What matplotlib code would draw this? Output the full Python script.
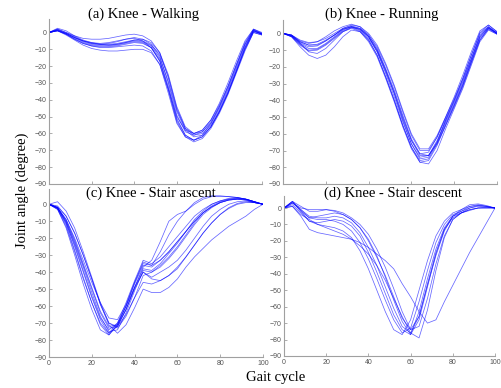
import matplotlib
matplotlib.use("Agg")
from matplotlib import pyplot as plt

# gait cycle (%) sampled every 4 %
gait_x = [0, 4, 8, 12, 16, 20, 24, 28, 32, 36, 40, 44, 48,
          52, 56, 60, 64, 68, 72, 76, 80, 84, 88, 92, 96, 100]

# knee angle (deg), one list per trial
walking = [
    [0, 2, 0, -2, -3.5, -4, -4, -3.5, -2.5, -1.5, -1, -2, -5, -12, -27, -46, -57, -60, -58, -52, -43, -32, -19, -6, 2, -0.5],
    [0, 1.5, -0.5, -3, -5, -6, -6.5, -6, -5, -4, -3, -4, -7, -14, -30, -49, -59, -61, -59, -53, -44, -33, -20, -7, 1.5, -1],
    [0, 1, -1, -4, -6.5, -8, -8.5, -8.5, -8, -7, -6, -6.5, -9, -16, -32, -51, -61, -64, -62, -56, -47, -36, -23, -10, 0.5, -1],
    [0, 1, -1.5, -4.5, -7.5, -9.5, -10.5, -11, -11, -10.5, -10, -10, -12, -19, -34, -52, -61, -64, -62, -56, -47, -36, -23, -10, 0, -1.5],
    [0, 2, 0, -2.5, -5, -6.5, -7, -7, -6.5, -5.5, -4.5, -5, -7.5, -13, -26, -45, -57, -61, -60, -55, -46, -35, -22, -9, 1, -1],
    [0, 1.5, -1, -3.5, -6, -7.5, -8, -8, -7.5, -6.5, -5.5, -6, -9, -17, -34, -53, -62, -65, -63, -57, -48, -37, -24, -11, 0, -1.5],
    [0, 1, -0.5, -3, -5, -6.5, -7, -6.5, -5.5, -4, -3.5, -5, -9, -17, -33, -50, -58, -60, -58, -52, -42, -30, -17, -5, 2, 0],
    [0, 2.5, 1, -2, -4.5, -6, -7, -7.5, -7, -6, -5, -5.5, -8, -15, -29, -47, -58, -62, -61, -56, -47, -36, -23, -9, 1, -1],
    [0, 1, -1, -4, -6.5, -8, -9, -9, -8.5, -8, -7.5, -8, -11, -19, -36, -54, -62, -64, -61, -54, -44, -32, -19, -7, 1.5, -0.5],
    [0, 1.5, -0.5, -3, -5.5, -7, -7.5, -7.5, -7, -6, -4.5, -4, -6, -12, -25, -44, -56, -60, -59, -54, -45, -34, -21, -8, 1, -1],
]

running = [
    [0, -2, -8, -13, -15, -13, -8, -2, 2, 1, -4, -13, -26, -40, -55, -68, -76, -75, -66, -54, -43, -31, -17, -4, 3, 0],
    [0, -1, -5, -7, -6.5, -4, -1, 2.5, 4, 2, -3, -11, -23, -36, -51, -64, -72, -71, -62, -50, -39, -27, -13, 0, 4, 0.5],
    [0, -1.5, -6, -9, -9, -6, -2, 2, 4, 3, -1, -8, -19, -32, -47, -61, -70, -70, -62, -51, -40, -28, -15, -2, 3.5, 0],
    [0, -1, -4, -5.5, -5, -3, 0, 3, 4.5, 3, -2, -10, -22, -35, -50, -64, -73, -73, -65, -53, -42, -30, -16, -2, 3.5, 0],
    [0, -2, -7, -10.5, -10, -7, -3, 1, 3, 1, -5, -14, -27, -41, -56, -69, -77, -76, -67, -55, -44, -32, -18, -4, 2.5, -0.5],
    [0, -1.5, -5.5, -8, -7.5, -4.5, -1, 3, 5, 4, 0, -7, -18, -31, -46, -60, -69, -69, -61, -50, -38, -25, -11, 1.5, 5, 1],
    [0, -1, -4.5, -6, -5, -2, 1.5, 4, 5.5, 4, -1, -9, -21, -34, -49, -63, -72, -73, -66, -55, -43, -31, -17, -3, 3, 0],
    [0, -2, -6.5, -10, -9.5, -6.5, -2.5, 1.5, 3.5, 1.5, -4, -13, -26, -40, -55, -68, -77, -78, -70, -57, -45, -33, -19, -5, 2, -0.5],
    [0, -1.5, -5, -7, -7, -4.5, -1, 2.5, 4, 2.5, -2, -11, -24, -38, -53, -66, -74, -73, -64, -52, -41, -29, -15, -1, 4, 0],
    [0, -1, -6, -11, -12, -9, -4, 1, 3.5, 2.5, -2, -10, -22, -36, -52, -66, -75, -74, -65, -52, -40, -27, -13, 0.5, 5, 1],
]

stair_up = [
    [0, -3, -14, -30, -47, -62, -74, -77, -71, -60, -47, -36, -37, -33, -28, -22, -16, -10, -5, -1.5, 1, 2.5, 3, 3, 1.5, 0],
    [0, 1.5, -4, -14, -28, -43, -58, -70, -73, -66, -55, -42, -40, -37, -32, -26, -19, -12, -6, -2, 1, 2.5, 3, 2.5, 1, 0],
    [0, -2, -10, -23, -37, -52, -66, -75, -74, -64, -51, -39, -40, -36, -31, -25, -18, -11, -5, -1, 1.5, 3, 3.5, 3, 1.5, 0],
    [0, -2, -9, -20, -33, -46, -58, -67, -68, -59, -46, -34, -36, -33, -28, -22, -16, -10, -5, -1.5, 1, 2.5, 3, 2.5, 1, 0],
    [0, -1, -7, -17, -30, -44, -59, -71, -76, -71, -61, -50, -52, -52, -49, -44, -37, -31, -26, -21, -17, -13, -10, -7, -3, 0],
    [0, -2, -11, -25, -40, -55, -68, -76, -72, -62, -49, -37, -33, -22, -10, -6, -4, 0, 3, 4.5, 4.5, 4.5, 4, 3, 1.5, 0],
    [0, -2.5, -12, -27, -43, -58, -71, -77, -71, -60, -46, -35, -36, -28, -18, -10, -4, 1, 4, 5, 5, 4.5, 4, 3, 1.5, 0],
    [0, -2, -9, -21, -35, -49, -63, -72, -71, -62, -50, -40, -43, -40, -37, -33, -27, -20, -13, -7, -3, 0, 1.5, 2, 1, 0],
    [0, -3, -13, -28, -44, -58, -70, -76, -70, -58, -45, -33, -35, -31, -25, -19, -13, -7, -3, 0, 2, 3, 3.5, 3, 1.5, 0],
    [0, -1.5, -7, -17, -30, -44, -59, -70, -72, -65, -55, -46, -47, -45, -42, -38, -31, -24, -17, -11, -6, -2, 0.5, 1.5, 1, 0],
    [0, -2, -10, -22, -36, -50, -64, -73, -72, -62, -49, -38, -39, -35, -29, -23, -16, -9, -4, 0, 2, 3.5, 4, 3, 1.5, 0],
    [0, -2.5, -11, -24, -39, -54, -67, -74, -70, -60, -49, -40, -44, -45, -42, -37, -31, -24, -17, -11, -6, -2.5, 0, 1, 1, 0],
]

stair_down = [
    [0, 4, -2, -8, -10, -11, -12, -14, -18, -26, -37, -50, -63, -74, -77, -68, -50, -32, -17, -8, -3, -1, 1, 1.5, 1, 0],
    [0, 3, -1, -6, -7, -7, -8, -10, -14, -21, -31, -43, -56, -68, -76, -73, -57, -38, -21, -10, -4, -2, 0, 1, 0.5, 0],
    [0, 4, 1, -2, -2, -1, -2, -4, -7, -12, -19, -29, -42, -56, -69, -77, -68, -48, -28, -13, -6, -3, 0, 1.5, 1, 0],
    [0, 2, -3, -8, -9, -8, -7, -8, -11, -17, -27, -39, -52, -65, -74, -77, -63, -43, -25, -12, -5, -3, -1, 0, 0, 0],
    [0, 3, 0, -1, -1, -1, -1.5, -3, -6, -10, -16, -25, -36, -49, -63, -74, -72, -55, -34, -17, -7, -3, -1.5, 0, 0.5, 0],
    [0, 1, -4, -7, -10, -12, -14, -16, -19, -23, -28, -35, -44, -55, -66, -76, -79, -62, -38, -18, -7, -3, -1, 0, 0, 0],
    [0, 1, -5, -13, -15, -16, -17, -18, -19, -21, -24, -28, -32, -37, -46, -54, -63, -70, -68, -57, -47, -37, -27, -18, -9, 0],
    [0, 4, -1, -5, -6, -6, -5, -6, -9, -15, -24, -35, -48, -61, -72, -76, -66, -46, -27, -13, -5, -2, 1, 2, 1, 0],
    [0, 3.5, -2, -6, -5, -4, -3, -4, -7, -12, -20, -30, -41, -54, -67, -74, -66, -47, -29, -14, -5, -1, 2, 2.5, 1.5, 0],
]

titles = ["(a) Knee - Walking", "(b) Knee - Running",
          "(c) Knee - Stair ascent", "(d) Knee - Stair descent"]
y_ticks = [-90, -80, -70, -60, -50, -40, -30, -20, -10, 0]
x_ticks = [0, 20, 40, 60, 80, 100]

W, H = 501, 388
fig = plt.figure(figsize=(W / 100, H / 100), dpi=100)

# axes boxes in pixels: left, top, right, bottom
boxes = [(49, 19, 262, 184), (283, 20, 497, 184),
         (49, 189, 263, 357), (284, 196, 495, 356)]
ytops = [8, 8, 9, 7.3]
title_pos = [(144, 14), (382, 14), (151, 193), (393, 193)]

for i, (data, title) in enumerate(zip([walking, running, stair_up, stair_down], titles)):
    l, t, r, b = boxes[i]
    ax = fig.add_axes([l / W, (H - b) / H, (r - l) / W, (b - t) / H])
    for trial in data:
        ax.plot(gait_x, trial, color="#0000ff", lw=0.55, alpha=0.6)
    ax.set_xlim(0, 100)
    ax.set_ylim(-90, ytops[i])
    ax.set_yticks(y_ticks)
    ax.set_xticks(x_ticks)
    if i < 2:
        ax.set_xticklabels([])
    for s in ["top", "right"]:
        ax.spines[s].set_visible(False)
    for s in ["left", "bottom"]:
        ax.spines[s].set_color("#a0a0a0")
        ax.spines[s].set_linewidth(0.8)
    ax.tick_params(direction="in", length=2, width=0.6, colors="#a0a0a0",
                   labelcolor="#555555", labelsize=5, pad=2)
    for lab in ax.get_xticklabels() + ax.get_yticklabels():
        lab.set_family("Liberation Sans")
    tx, ty = title_pos[i]
    fig.text(tx / W, 1 - ty / H, title, ha="center", va="center",
             family="Liberation Serif", fontsize=10.5)

fig.text(22 / W, 1 - 190 / H, "Joint angle (degree)", rotation=90,
         ha="center", va="center", family="Liberation Serif", fontsize=10.5)
fig.text(276 / W, 1 - 377 / H, "Gait cycle", ha="center", va="center",
         family="Liberation Serif", fontsize=10.5)

fig.savefig("out.png", dpi=100)
